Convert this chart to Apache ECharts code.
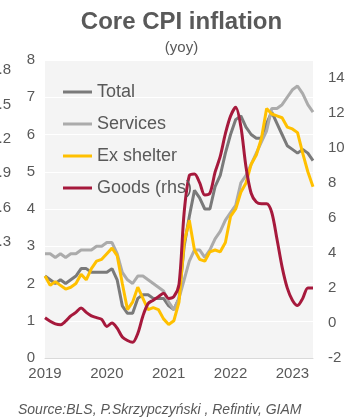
<!DOCTYPE html>
<html>
<head>
<meta charset="utf-8">
<script src="https://cdn.jsdelivr.net/npm/echarts@6/dist/echarts.min.js"></script>
<style>
html,body{margin:0;padding:0;background:#ffffff;}
#chart{width:363px;height:417px;}
</style>
</head>
<body>
<div id="chart"></div>
<script>
// Monthly, Jan 2019 .. May 2023
const months = [];
for (let y = 2019; y <= 2023; y++) {
  for (let m = 1; m <= 12; m++) {
    if (y === 2023 && m > 5) break;
    months.push(y + '-' + (m < 10 ? '0' + m : m));
  }
}

const total = [
  2.2, 2.1, 2.0, 2.1, 2.0, 2.1, 2.2, 2.4, 2.4, 2.3, 2.3, 2.3,
  2.3, 2.4, 2.1, 1.4, 1.2, 1.2, 1.6, 1.7, 1.7, 1.6, 1.6, 1.6,
  1.4, 1.3, 1.6, 3.0, 3.8, 4.5, 4.3, 4.0, 4.0, 4.6, 4.9, 5.5,
  6.0, 6.4, 6.5, 6.2, 6.0, 5.9, 5.9, 6.3, 6.6, 6.3, 6.0, 5.7,
  5.6, 5.5, 5.6, 5.5, 5.3
];

const services = [
  2.8, 2.8, 2.7, 2.8, 2.7, 2.8, 2.8, 2.9, 2.9, 2.9, 3.0, 3.0,
  3.1, 3.1, 2.8, 2.3, 2.1, 2.0, 2.2, 2.2, 2.1, 2.0, 1.9, 1.8,
  1.5, 1.3, 1.6, 2.1, 2.6, 2.9, 2.9, 2.7, 2.9, 3.2, 3.4, 3.7,
  3.9, 4.1, 4.7, 4.9, 5.2, 5.5, 5.8, 6.1, 6.7, 6.7, 6.8, 7.0,
  7.2, 7.3, 7.1, 6.8, 6.6
];

const exShelter = [
  2.2, 1.95, 2.05, 1.95, 1.85, 1.9, 2.0, 2.25, 2.1, 2.4, 2.6, 2.65,
  2.8, 2.95, 2.75, 2.0, 1.3, 1.5, 1.9, 1.6, 1.3, 1.35, 1.3, 1.05,
  0.9, 1.0, 1.5, 3.1, 3.7, 2.9, 2.65, 2.6, 2.85, 2.9, 2.85, 3.1,
  3.8, 4.0, 4.45, 4.7, 5.2, 5.45, 5.9, 6.7, 6.55, 6.5, 6.45, 6.2,
  6.15, 6.05, 5.5, 5.0, 4.6
];

const goods = [
  0.3, 0.1, -0.05, -0.1, 0.1, 0.4, 0.6, 0.85, 0.6, 0.4, 0.3, 0.2,
  -0.2, 0.0, -0.3, -0.8, -1.0, -1.1, -0.6, 0.4, 1.1, 1.3, 1.5, 1.7,
  1.4, 1.5, 2.2, 6.3, 8.4, 8.5, 8.0, 7.3, 7.4, 8.6, 9.5, 10.8,
  11.8, 12.3, 11.2, 8.9, 7.4, 6.9, 6.8, 6.8, 6.3, 4.8, 3.2, 2.0,
  1.3, 1.0, 1.4, 2.0, 2.0
];

const seriesNames = ['Total', 'Services', 'Ex shelter', 'Goods (rhs)'];
// tick labels of a neighbouring chart's axis, cut by the left edge
const partialLabels = ['1.8', '1.5', '1.2', '0.9', '0.6', '0.3'];

const FONT = '"Liberation Sans", Arial, sans-serif';
const TXT = '#595959';

const chart = echarts.init(document.getElementById('chart'), null, {renderer: 'canvas'});

const partialY = [70, 105, 139, 173, 208, 242];
const graphics = partialLabels.map((t, i) => ({
  type: 'text',
  x: 11,
  y: partialY[i],
  style: {text: t, fill: TXT, font: '15px ' + FONT, align: 'right', verticalAlign: 'middle'}
}));

chart.setOption({
  animation: false,
  backgroundColor: '#ffffff',
  title: [
    {text: 'Core CPI inflation', left: 'center', top: 5,
     textStyle: {fontFamily: FONT, fontSize: 24, fontWeight: 'bold', color: TXT}},
    {text: '(yoy)', left: 'center', top: 35,
     textStyle: {fontFamily: FONT, fontSize: 15, fontWeight: 'normal', color: TXT}},
    {text: 'Source:BLS, P.Skrzypczyński , Refintiv, GIAM', left: 13, top: 398,
     textStyle: {fontFamily: FONT, fontSize: 14, fontStyle: 'italic', fontWeight: 'normal', color: TXT}}
  ],
  graphic: graphics,
  grid: {left: 45, right: 50, top: 60, bottom: 59, show: true,
         backgroundColor: '#f4f4f4', borderWidth: 0},
  legend: {
    orient: 'vertical', left: 63, top: 83, padding: 0,
    data: seriesNames,
    icon: 'rect', itemWidth: 29, itemHeight: 3, itemGap: 14,
    textStyle: {fontFamily: FONT, fontSize: 18, color: TXT, lineHeight: 18}
  },
  xAxis: {
    type: 'category', data: months, boundaryGap: false,
    axisLine: {show: true, lineStyle: {color: '#d9d9d9', width: 1}},
    axisTick: {show: false},
    axisLabel: {
      interval: (i) => i % 12 === 0,
      formatter: (v) => v.slice(0, 4),
      fontFamily: FONT, fontSize: 15, color: TXT, margin: 8
    },
    splitLine: {show: false}
  },
  yAxis: [
    {type: 'value', min: 0, max: 8, interval: 1,
     axisLine: {show: false}, axisTick: {show: false},
     axisLabel: {fontFamily: FONT, fontSize: 15, color: TXT, margin: 10},
     splitLine: {show: true, lineStyle: {color: '#ffffff', width: 1}}},
    {type: 'value', min: -2, max: 15, interval: 2, position: 'right',
     axisLine: {show: false}, axisTick: {show: false},
     axisLabel: {fontFamily: FONT, fontSize: 15, color: TXT, margin: 15, showMaxLabel: false},
     splitLine: {show: false}}
  ],
  series: [
    {name: 'Total', type: 'line', data: total, yAxisIndex: 0, showSymbol: false,
     lineStyle: {color: '#7a7a7a', width: 3}, itemStyle: {color: '#7a7a7a'}},
    {name: 'Services', type: 'line', data: services, yAxisIndex: 0, showSymbol: false,
     lineStyle: {color: '#ababab', width: 3}, itemStyle: {color: '#ababab'}},
    {name: 'Ex shelter', type: 'line', data: exShelter, yAxisIndex: 0, showSymbol: false,
     lineStyle: {color: '#ffc000', width: 3}, itemStyle: {color: '#ffc000'}},
    {name: 'Goods (rhs)', type: 'line', data: goods, yAxisIndex: 1, showSymbol: false, smooth: 0.3,
     lineStyle: {color: '#a6193c', width: 3}, itemStyle: {color: '#a6193c'}}
  ]
});
</script>
</body>
</html>
